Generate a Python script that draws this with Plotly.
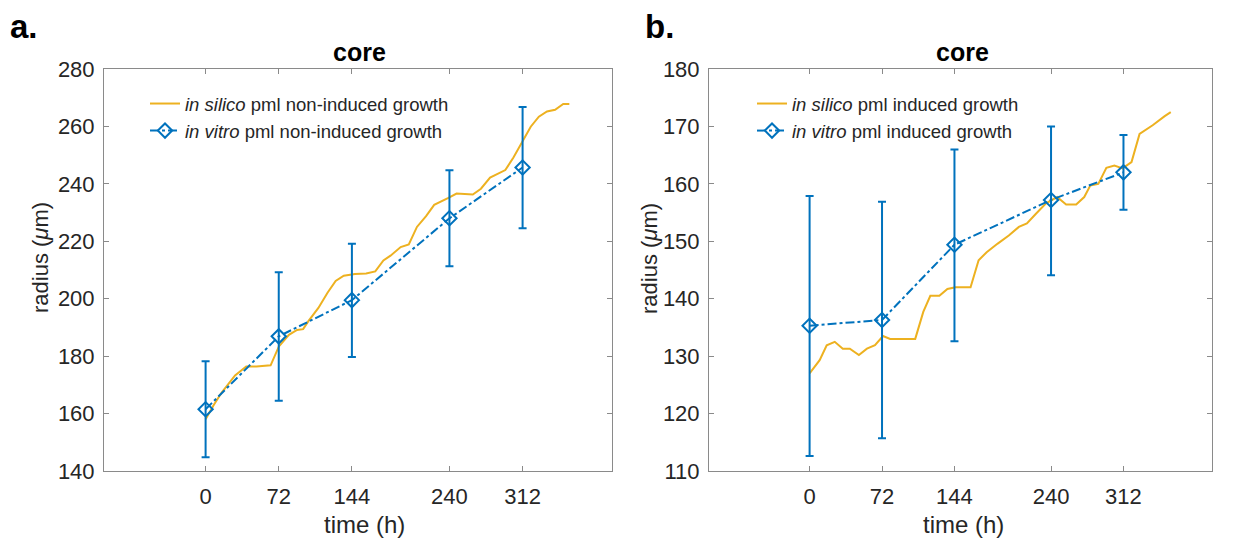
import plotly.graph_objects as go

# ---------------- data ----------------
# panel a: non-induced
sim_a_t = [0, 8, 16, 29, 40, 50, 64, 72, 82, 90, 96, 101, 111, 120, 128, 136, 147, 158, 167, 175,
           182, 192, 200, 208, 217, 225, 239, 247, 263, 271, 280, 295, 303, 312, 320, 328, 336, 344, 352, 358]
sim_a_r = [158, 163, 167.4, 173.3, 176.4, 176.4, 176.8, 183.3, 187.4, 189.1, 189.4, 192.1, 196.8, 202.1,
           206.2, 208, 208.6, 208.8, 209.5, 213.3, 215, 218, 218.9, 225, 228.8, 232.7, 235.1, 236.6,
           236.3, 238.3, 242.2, 244.8, 249.2, 254.6, 259.9, 263.4, 265.2, 265.8, 267.8, 267.8]
vit_t = [0, 72, 144, 240, 312]
vit_a_r = [161.5, 186.9, 199.5, 228.0, 245.7]
vit_a_hi = [178.2, 209.2, 219.1, 244.7, 266.8]
vit_a_lo = [144.8, 164.5, 179.7, 211.3, 224.5]

# panel b: induced
sim_b_t = [0, 10, 17, 25, 33, 40, 49, 57, 65, 73, 80, 105, 113, 120, 129, 137, 145, 160, 168, 176,
           187, 198, 208, 216, 225, 235, 246, 255, 265, 273, 279, 287, 295, 303, 311, 320, 328, 341, 353, 359]
sim_b_r = [127, 129.3, 131.9, 132.5, 131.3, 131.3, 130.2, 131.3, 131.9, 133.5, 133, 133, 137.7, 140.5,
           140.5, 141.7, 142, 142, 146.7, 148.1, 149.6, 151, 152.5, 153.1, 154.8, 156.6, 157.7, 156.4,
           156.4, 157.7, 159.7, 160, 162.8, 163.2, 162.7, 163.8, 168.7, 170.2, 171.8, 172.5]
vit_b_r = [135.3, 136.3, 149.4, 157.2, 162.0]
vit_b_hi = [157.9, 156.9, 166.0, 170.0, 168.5]
vit_b_lo = [112.6, 115.7, 132.6, 144.1, 155.5]

x_ticks = [0, 72, 144, 240, 312]
ya_ticks = [140, 160, 180, 200, 220, 240, 260, 280]
yb_ticks = [110, 120, 130, 140, 150, 160, 170, 180]

ORANGE = "#EDB120"
BLUE = "#0072BD"
W, H = 1233, 539
TOP, BOT = 69, 471

def px_x(p):
    return p / W

def px_y(p):
    return (BOT - p) / (BOT - TOP)

fig = go.Figure()

def add_panel(xa, ya, legend, t_sim, r_sim, r_vit, hi, lo, label_sim, label_vit):
    fig.add_trace(go.Scatter(x=t_sim, y=r_sim, mode="lines", name=label_sim,
                             line=dict(color=ORANGE, width=2), xaxis=xa, yaxis=ya, legend=legend))
    fig.add_trace(go.Scatter(x=vit_t, y=r_vit, mode="lines+markers", name=label_vit,
                             line=dict(color=BLUE, width=2, dash="dashdot"),
                             marker=dict(symbol="diamond-open", size=11, color=BLUE,
                                         line=dict(color=BLUE, width=2)),
                             error_y=dict(type="data", symmetric=False,
                                          array=[h - r for h, r in zip(hi, r_vit)],
                                          arrayminus=[r - l for l, r in zip(lo, r_vit)],
                                          color=BLUE, thickness=2, width=4),
                             xaxis=xa, yaxis=ya, legend=legend))

add_panel("x", "y", "legend", sim_a_t, sim_a_r, vit_a_r, vit_a_hi, vit_a_lo,
          "<i>in silico</i> pml non-induced growth", "<i>in vitro</i> pml non-induced growth")
add_panel("x2", "y2", "legend2", sim_b_t, sim_b_r, vit_b_r, vit_b_hi, vit_b_lo,
          "<i>in silico</i> pml induced growth", "<i>in vitro</i> pml induced growth")

AX = "#8a8a8a"
TXT = "#262626"
FONT = "Liberation Sans, Arial, sans-serif"

xcommon = dict(range=[-100, 400], tickvals=x_ticks, ticks="inside", ticklen=5, tickcolor=AX,
               showline=True, linecolor=AX, linewidth=1, mirror="ticks", showgrid=False,
               zeroline=False, tickfont=dict(size=22, color=TXT, family=FONT), ticklabelstandoff=6)
ycommon = dict(ticks="inside", ticklen=5, tickcolor=AX, showline=True, linecolor=AX, linewidth=1,
               mirror="ticks", showgrid=False, zeroline=False,
               tickfont=dict(size=22, color=TXT, family=FONT), ticklabelstandoff=4)

fig.update_layout(
    width=W, height=H, paper_bgcolor="white", plot_bgcolor="white",
    margin=dict(l=0, r=0, t=TOP, b=H - BOT),
    font=dict(family=FONT, color=TXT),
    showlegend=True,
    xaxis=dict(domain=[px_x(104), px_x(612)], anchor="y", **xcommon),
    yaxis=dict(domain=[0, 1], anchor="x", range=[140, 280], tickvals=ya_ticks, **ycommon),
    xaxis2=dict(domain=[px_x(709), px_x(1212)], anchor="y2", **xcommon),
    yaxis2=dict(domain=[0, 1], anchor="x2", range=[110, 180], tickvals=yb_ticks, **ycommon),
    legend=dict(x=px_x(145), y=px_y(85), xanchor="left", yanchor="top",
                font=dict(size=18.5, color=TXT, family=FONT), bgcolor="rgba(0,0,0,0)",
                borderwidth=0, tracegroupgap=0),
    legend2=dict(x=px_x(752), y=px_y(85), xanchor="left", yanchor="top",
                 font=dict(size=18.5, color=TXT, family=FONT), bgcolor="rgba(0,0,0,0)",
                 borderwidth=0, tracegroupgap=0),
)

ann = [
    dict(text="<b>a.</b>", x=px_x(8), y=px_y(27), xanchor="left", yanchor="middle", font=dict(size=33, color="black")),
    dict(text="<b>b.</b>", x=px_x(643), y=px_y(27), xanchor="left", yanchor="middle", font=dict(size=33, color="black")),
    dict(text="<b>core</b>", x=px_x(360), y=px_y(52), xanchor="center", yanchor="middle", font=dict(size=25, color="black")),
    dict(text="<b>core</b>", x=px_x(962), y=px_y(52), xanchor="center", yanchor="middle", font=dict(size=25, color="black")),
    dict(text="time (h)", x=px_x(364), y=px_y(524), xanchor="center", yanchor="middle", font=dict(size=24, color=TXT)),
    dict(text="time (h)", x=px_x(963), y=px_y(524), xanchor="center", yanchor="middle", font=dict(size=24, color=TXT)),
    dict(text="radius (<i>μ</i>m)", x=px_x(40), y=px_y(258), xanchor="center", yanchor="middle", textangle=-90, font=dict(size=22, color=TXT)),
    dict(text="radius (<i>μ</i>m)", x=px_x(649), y=px_y(258), xanchor="center", yanchor="middle", textangle=-90, font=dict(size=22, color=TXT)),
]
for a in ann:
    a.update(xref="paper", yref="paper", showarrow=False)
    a["font"]["family"] = FONT
fig.update_layout(annotations=ann)

fig.write_html("out.html")
